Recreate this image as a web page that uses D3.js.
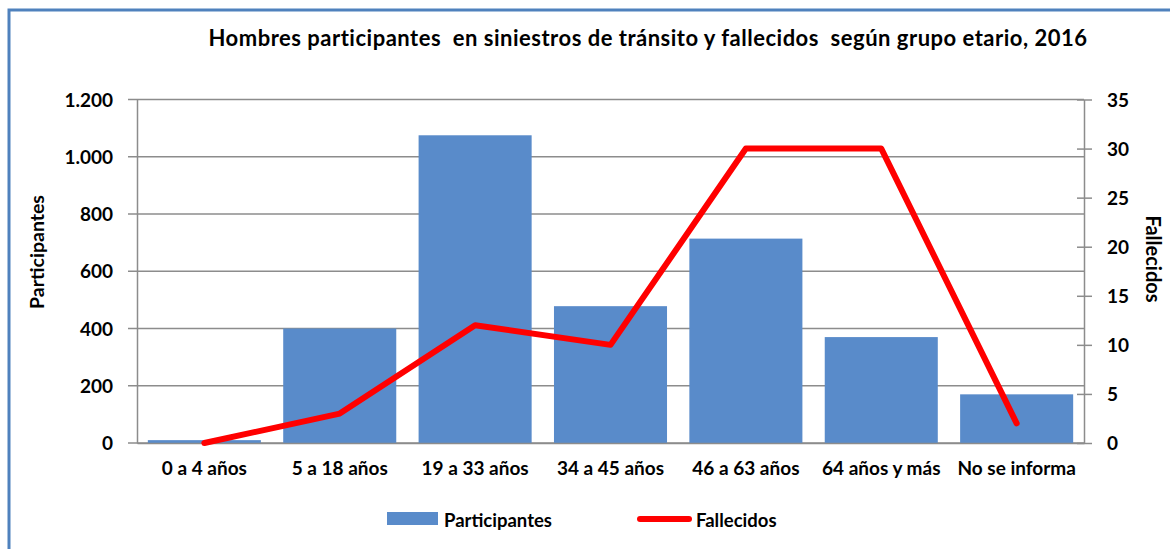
<!DOCTYPE html>
<html>
<head>
<meta charset="utf-8">
<script src="https://cdn.jsdelivr.net/npm/d3@7"></script>
<style>
  body { margin: 0; background: #fff; }
  text { font-family: Lato, "Open Sans", sans-serif; font-weight: bold; fill: #000; }
</style>
</head>
<body>
<div id="chartDiv"></div>
<script>
// data
var categories = ["0 a 4 años", "5 a 18 años", "19 a 33 años", "34 a 45 años", "46 a 63 años", "64 años y más", "No se informa"];
var participantes = [10, 400, 1075, 478, 714, 370, 170];
var fallecidos = [0, 3, 12, 10, 30, 30, 2];
var leftTicks = [0, 200, 400, 600, 800, 1000, 1200];
var rightTicks = [0, 5, 10, 15, 20, 25, 30, 35];

var width = 1170, height = 549;
var plot = { left: 137, right: 1084, top: 99.5, bottom: 443 };

var svg = d3.select("#chartDiv").append("svg")
    .attr("width", width)
    .attr("height", height);

// outer frame, runs off the page at right and bottom
svg.append("rect")
   .attr("x", 9).attr("y", 10)
   .attr("width", 1300).attr("height", 700)
   .attr("fill", "none")
   .attr("stroke", "#4f81bd")
   .attr("stroke-width", 3);

var xScale = d3.scaleBand()
    .domain(categories)
    .range([plot.left, plot.right])
    .paddingInner(0.165)
    .paddingOuter(0.08);

var yLeft = d3.scaleLinear().domain([0, 1200]).range([plot.bottom, plot.top]);
var yRight = d3.scaleLinear().domain([0, 35]).range([plot.bottom, plot.top]);

// gridlines
svg.append("g").selectAll("line")
   .data(leftTicks)
   .enter().append("line")
   .attr("x1", plot.left - 9)
   .attr("x2", plot.right)
   .attr("y1", function(d) { return yLeft(d); })
   .attr("y2", function(d) { return yLeft(d); })
   .attr("stroke", "#8c8c8c")
   .attr("stroke-width", 1.5);

// left axis
var leftAxis = d3.axisLeft(yLeft).tickValues(leftTicks).tickSize(0).tickPadding(24)
    .tickFormat(function(d) { return d3.format(",")(d).replace(",", "."); });
var gl = svg.append("g").attr("transform", "translate(" + plot.left + ",0)").call(leftAxis);
gl.select(".domain").attr("stroke", "#8c8c8c").attr("stroke-width", 1.5);
gl.selectAll("text").style("font-size", "19px").attr("dy", "0.35em");

// right axis
var rightAxis = d3.axisRight(yRight).tickValues(rightTicks).tickSizeInner(8).tickSizeOuter(0).tickPadding(15);
var gr = svg.append("g").attr("transform", "translate(" + plot.right + ",0)").call(rightAxis);
gr.select(".domain").attr("stroke", "#8c8c8c").attr("stroke-width", 1.5);
gr.selectAll(".tick line").attr("x1", -7).attr("stroke", "#8c8c8c").attr("stroke-width", 1.5);
gr.selectAll("text").style("font-size", "19px").attr("dy", "0.35em");

// bars
svg.selectAll("rect.bar")
   .data(participantes)
   .enter().append("rect")
   .attr("class", "bar")
   .attr("x", function(d, i) { return xScale(categories[i]); })
   .attr("y", function(d) { return yLeft(d); })
   .attr("width", xScale.bandwidth())
   .attr("height", function(d) { return plot.bottom - yLeft(d); })
   .attr("fill", "#598bca");

// bottom axis
var bottomAxis = d3.axisBottom(xScale).tickSize(0).tickPadding(19);
var gb = svg.append("g").attr("transform", "translate(0," + plot.bottom + ")").call(bottomAxis);
gb.select(".domain").attr("stroke", "#8c8c8c").attr("stroke-width", 1.5);
gb.selectAll("text").style("font-size", "19px");

// fallecidos line
var line = d3.line()
    .x(function(d, i) { return xScale(categories[i]) + xScale.bandwidth() / 2; })
    .y(function(d) { return yRight(d); });
svg.append("path")
   .datum(fallecidos)
   .attr("d", line)
   .attr("fill", "none")
   .attr("stroke", "#ff0000")
   .attr("stroke-width", 6)
   .attr("stroke-linejoin", "round")
   .attr("stroke-linecap", "round");

// title (double spaces kept as in the original)
svg.append("text")
   .attr("x", 648).attr("y", 46)
   .attr("text-anchor", "middle")
   .style("font-size", "22px")
   .style("letter-spacing", "0.5px")
   .style("white-space", "pre")
   .text("Hombres participantes  en siniestros de tránsito y fallecidos  según grupo etario, 2016");

// axis titles
svg.append("text")
   .attr("transform", "translate(44,252) rotate(-90)")
   .attr("text-anchor", "middle")
   .style("font-size", "19.5px")
   .text("Participantes");
svg.append("text")
   .attr("transform", "translate(1146,259) rotate(90)")
   .attr("text-anchor", "middle")
   .style("font-size", "20px")
   .text("Fallecidos");

// legend
svg.append("rect")
   .attr("x", 387).attr("y", 512)
   .attr("width", 51).attr("height", 13)
   .attr("fill", "#598bca");
svg.append("text").attr("x", 444).attr("y", 527).style("font-size", "18.5px").text("Participantes");
svg.append("line")
   .attr("x1", 640).attr("x2", 689)
   .attr("y1", 519).attr("y2", 519)
   .attr("stroke", "#ff0000")
   .attr("stroke-width", 6)
   .attr("stroke-linecap", "round");
svg.append("text").attr("x", 696).attr("y", 527).style("font-size", "18.5px").text("Fallecidos");
</script>
</body>
</html>
